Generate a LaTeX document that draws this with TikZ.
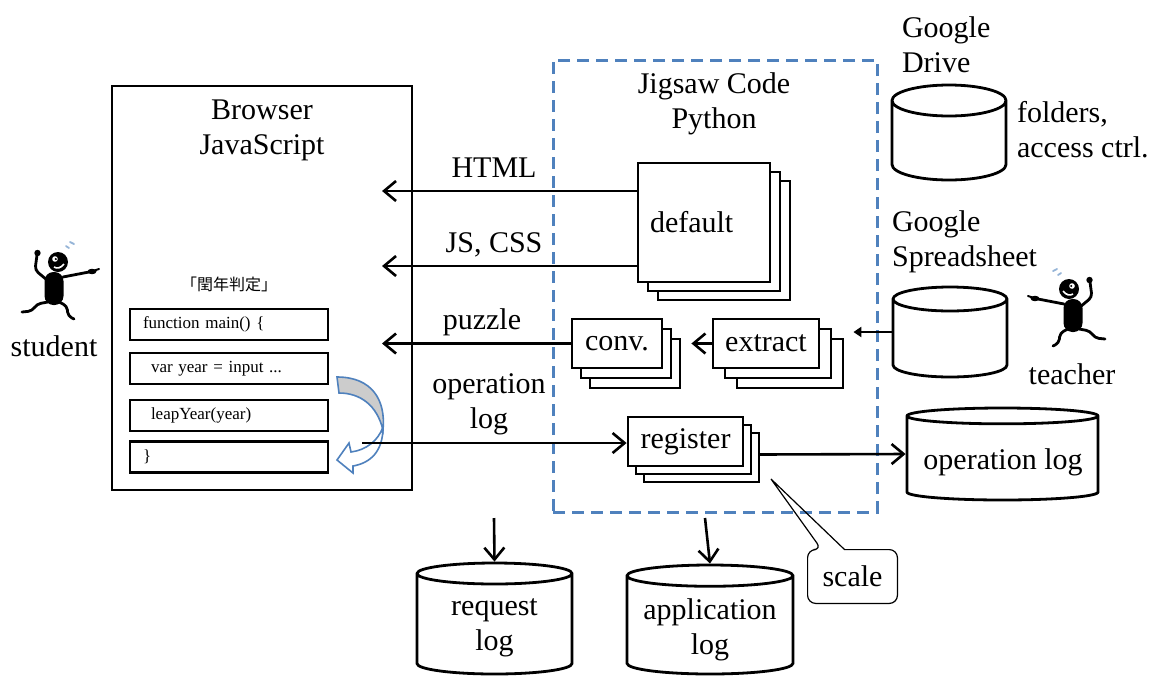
\documentclass[tikz,border=0pt]{standalone}
\usepackage{fontspec}
\setmainfont{Liberation Serif}
\newfontfamily\cjk{Noto Sans CJK JP}
\usetikzlibrary{arrows.meta,shapes.geometric,shadows}
\definecolor{jigblue}{RGB}{79,129,189}

\begin{document}
\begin{tikzpicture}[x=0.5pt, y=-0.5pt, >={Straight Barb[length=6pt,width=10pt]},
    font=\fontsize{15}{17.5}\selectfont,
    box/.style={draw, fill=white, line width=1.4pt, inner sep=0pt},
    stack/.style 2 args={box,
      copy shadow={shadow xshift=2*#1, shadow yshift=-2*#2},
      copy shadow={shadow xshift=#1, shadow yshift=-#2}},
    codeline/.style={draw, line width=1.4pt, minimum width=99pt, minimum height=15.5pt,
      text width=86pt, align=left, font=\fontsize{8.5}{10}\selectfont},
    db/.style={cylinder, shape border rotate=90, draw, fill=white, line width=1.4pt,
      inner sep=0pt, anchor=shape center},
    flow/.style={line width=1.3pt, ->},
    flowlabel/.style={anchor=base, yshift=7pt},
    pics/runner/.style={code={
      \fill[rounded corners=4.5pt] (-9.5,17) rectangle (9.5,-16);
      \fill (4,-26) circle (10);
      \fill[white] (1,-29) circle (2.8);
      \fill (1.8,-29) circle (1.2);
      \draw[white, line width=0.8pt] (0,-21) .. controls (3,-19) and (7,-20) .. (10,-24);
      \begin{scope}[line width=1.4pt, line cap=round, rounded corners=2pt]
        \draw (-7,-8) -- (-19,-18) -- (-17,-33);
        \draw (9,-11) -- (35,-16);
        \draw (-6,14) -- (-17,16) -- (-22,23) -- (-32,24);
        \draw (5,14) -- (13,18) -- (14,28) -- (20,31);
      \end{scope}
      \fill (-16.5,-35) circle (3.2);
      \fill (38,-16.5) ellipse (4.5 and 2.7);
      \draw[line width=1pt, line cap=round] (39,-17) -- (45,-19);
      \draw[jigblue!60, line width=0.9pt, line cap=round] (12,-42) -- (15,-40) (16,-46) -- (20,-44);
    }}]
\useasboundingbox (0,0) rectangle (1150,675);

% browser side
\node[box, minimum width=150pt, minimum height=202pt] (browser) at (262,288) {};
\node[align=center] (browsertitle) at (262,130) {Browser\\JavaScript};
\node (codetitle) at (229,284) {\cjk\fontsize{8}{9}\selectfont 「閏年判定」};
\node[codeline] (main) at (229,324.5) {function main() \{};
\node[codeline] (year) at (229,368.5) {\hspace*{4pt}var year = input ...};
\node[codeline] (leap) at (229,415.5) {\hspace*{4pt}leapYear(year)};
\node[codeline] (close) at (229,457) {\}};

% curved arrow from the var line down to the closing brace
\filldraw[draw=jigblue, fill=gray!40, line width=0.8pt]
  (337,377) .. controls (372,377) and (386,400) .. (383,430)
  .. controls (377,405) and (360,393) .. (339,393) -- cycle;
\filldraw[draw=jigblue, fill=white, line width=0.8pt]
  (383,427) .. controls (383,452) and (370,463) .. (353,466) -- (353,473) -- (337,460)
  -- (349,443) -- (351,452) .. controls (366,450) and (378,441) .. (383,427);

% server side
\node[draw=jigblue, dash pattern=on 6pt off 3.5pt, line width=1.5pt,
  minimum width=162pt, minimum height=226pt] (server) at (715,286) {};
\node[align=center] (servertitle) at (714,103.5) {Jigsaw Code\\Python};
\node[stack={5pt}{4.5pt}, minimum width=66pt, minimum height=59.5pt,
  text width=54pt, align=left] (default) at (704,222.5) {default};
\node[stack={4.5pt}{5pt}, minimum width=45pt, minimum height=24.5pt] (conv) at (617,343.5) {conv.};
\node[stack={6pt}{5pt}, minimum width=53pt, minimum height=24.5pt] (extract) at (766,343.5) {extract};
\node[stack={4pt}{4pt}, minimum width=57.5pt, minimum height=24.5pt] (register) at (685.5,441.5) {register};

% storage
\node[db, aspect=0.31, minimum width=57pt, minimum height=47.5pt, text width=50pt] (drive) at (949,132.5) {};
\node[anchor=west, align=left] (drivename) at (895,45) {Google\\Drive};
\node[anchor=west, align=left] (drivenote) at (1010,130) {folders,\\access ctrl.};
\node[db, aspect=0.24, minimum width=57pt, minimum height=45pt, text width=50pt] (sheet) at (950,332) {};
\node[anchor=west, align=left] (sheetname) at (885,242) {Google\\Spreadsheet};
\node[db, aspect=0.09, minimum width=95.5pt, minimum height=46pt, text width=88pt] (oplog) at (1002.5,454) {};
\node (optext) at (1003,462) {operation log};
\node[db, aspect=0.15, minimum width=77.5pt, minimum height=55.5pt, text width=70pt] (reqlog) at (494.5,618.5) {};
\node[align=center] (reqtext) at (494.5,628) {request\\log};
\node[db, aspect=0.14, minimum width=83pt, minimum height=54.5pt, text width=76pt] (applog) at (710,619.5) {};
\node[align=center] (apptext) at (710,630) {application\\log};

% people
\pic at (54,288) {runner};
\node (student) at (54,346) {student};
\pic[xscale=-1] at (1073,315) {runner};
\node (teacher) at (1072,374) {teacher};

% callout
\node[minimum width=44.5pt, minimum height=26.5pt] (scale) at (852.5,576.5) {scale};
\coordinate (scaletip) at (771,479);
\draw[line width=0.6pt] ([xshift=18.5pt]scale.north west) [rounded corners=4pt]
  -- (scale.north east) -- (scale.south east) -- (scale.south west) -- (scale.north west)
  -- ([xshift=7pt]scale.north west) [sharp corners] -- (scaletip) -- cycle;

% data flow
\coordinate (inHTML) at (382,191);
\coordinate (inJS) at (382,266);
\coordinate (inPuzzle) at (382,343.5);
\coordinate (logsrc) at (362,443);
\coordinate (reqsrc) at (494,518);
\coordinate (appsrc) at (705,518);
\draw[flow] (default.west |- inHTML) -- node[flowlabel, pos=0.56] {HTML} (inHTML);
\draw[flow] (default.west |- inJS) -- node[flowlabel, pos=0.56] {JS, CSS} (inJS);
\draw[flow] (conv.west) -- node[flowlabel, pos=0.47] {puzzle} (inPuzzle);
\draw[flow] (extract.west) -- ([xshift=14pt]conv.east);
\draw[line width=1.3pt, -{Triangle[length=4pt,width=5pt]}] (sheet.west |- sheet.shape center)
  -- ([xshift=16.5pt]extract.east |- sheet.shape center);
\draw[flow] (logsrc) -- node[above, align=center, pos=0.48] {operation\\log} (register.west |- logsrc);
\draw[flow] ([xshift=7.5pt, yshift=-6.5pt]register.east) -- (oplog.west |- oplog.shape center);
\draw[flow] (reqsrc) -- (reqlog.north);
\draw[flow] (appsrc) -- (applog.north);
\end{tikzpicture}
\end{document}
